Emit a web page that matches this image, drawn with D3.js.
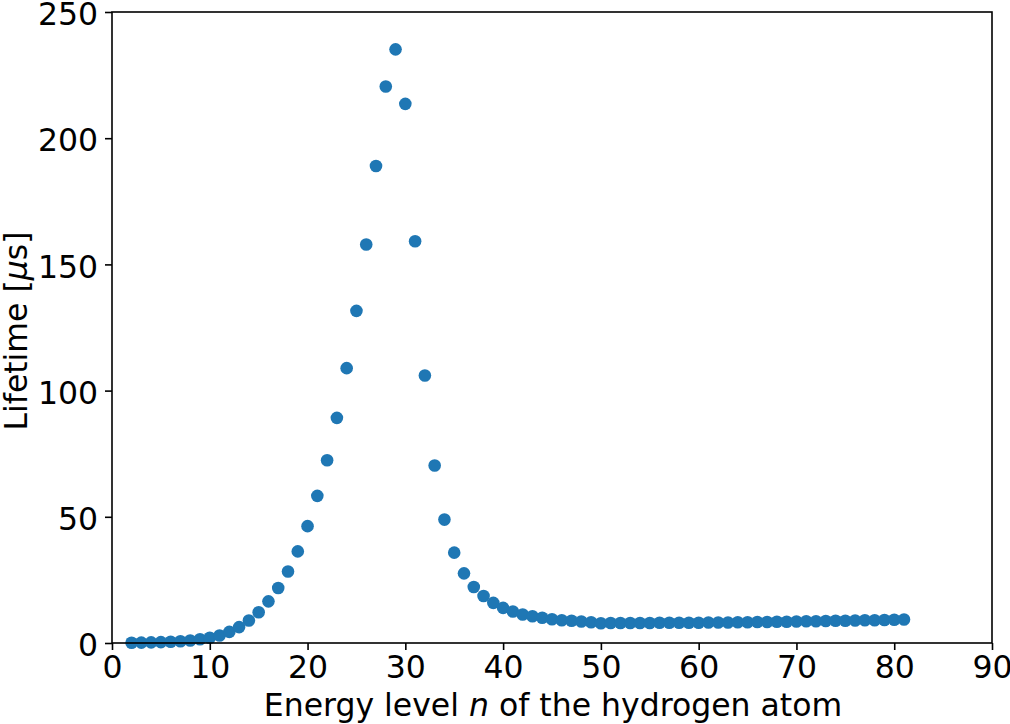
<!DOCTYPE html>
<html><head><meta charset="utf-8">
<script src="https://cdn.jsdelivr.net/npm/d3@7"></script>
<style>body{margin:0;background:#fff;} text{font-family:"DejaVu Sans",sans-serif;}</style>
</head><body>
<svg id="c" width="1010" height="724"></svg>
<script>
const levels = d3.range(2, 82);
const lifetimes = [0.1,0.15,0.25,0.35,0.5,0.7,1.0,1.5,2.1,3.0,4.4,6.3,8.9,12.2,16.5,21.8,28.3,36.3,46.3,58.3,72.4,89.2,108.9,131.6,157.9,189.0,220.5,235.2,213.6,159.2,106.0,70.3,48.9,35.8,27.6,22.2,18.6,15.9,13.9,12.5,11.3,10.6,10.0,9.4,9.0,8.8,8.5,8.2,7.8,7.9,7.9,7.9,7.9,7.9,8.0,8.0,8.0,8.0,8.0,8.1,8.1,8.1,8.2,8.2,8.3,8.3,8.4,8.4,8.5,8.6,8.6,8.7,8.8,8.8,8.9,9.0,9.0,9.1,9.2,9.3];
const xTicks = [0,10,20,30,40,50,60,70,80,90];
const yTicks = [0,50,100,150,200,250];

const svg = d3.select("#c");
const L=112, R=992, T=12, B=643;
const FS = 31.5;
const x = d3.scaleLinear().domain([0,90]).range([L,R]);
const y = d3.scaleLinear().domain([0,250]).range([B,T]);

svg.append("g").selectAll("circle").data(levels).join("circle")
  .attr("cx",(d)=>x(d)).attr("cy",(d,i)=>y(lifetimes[i])).attr("r",6.3).attr("fill","#1f77b4");

const xa = svg.append("g").attr("transform",`translate(0,${B})`)
  .call(d3.axisBottom(x).tickValues(xTicks).tickSize(7).tickPadding(5));
const ya = svg.append("g").attr("transform",`translate(${L},0)`)
  .call(d3.axisLeft(y).tickValues(yTicks).tickSize(7).tickPadding(7));
[xa,ya].forEach(a=>{a.select(".domain").remove();
  a.selectAll("line").attr("stroke","#000").attr("stroke-width",1.6);
  a.selectAll("text").attr("font-size",FS).attr("fill","#000").style("font-family","DejaVu Sans");});
xa.selectAll("text").attr("dy","0.73em");
ya.selectAll("text").attr("dy","0.4em");

svg.append("rect").attr("x",L).attr("y",T).attr("width",R-L).attr("height",B-T)
  .attr("fill","none").attr("stroke","#000").attr("stroke-width",1.6);

const xl = svg.append("text").attr("x",553).attr("y",716).attr("text-anchor","middle").attr("font-size",FS);
xl.append("tspan").text("Energy level ");
xl.append("tspan").attr("font-style","italic").text("n");
xl.append("tspan").text(" of the hydrogen atom");

const yl = svg.append("text").attr("transform",`translate(27,331) rotate(-90)`).attr("text-anchor","middle").attr("font-size",FS);
yl.append("tspan").text("Lifetime [");
yl.append("tspan").attr("font-style","italic").text("μ");
yl.append("tspan").text("s]");
</script>
</body></html>
